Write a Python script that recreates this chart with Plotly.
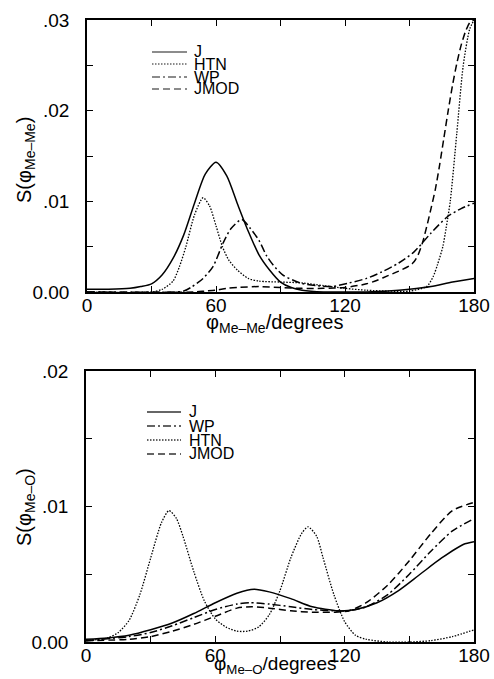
import plotly.graph_objects as go

# ---------------- data: top panel (phi Me-Me) ----------------
top_J_x = [0, 10, 20, 25, 30, 35, 40, 45, 50, 55, 60, 65, 70, 75, 80, 85, 90, 95, 100, 110, 120, 130, 140, 150, 160, 170, 180]
top_J_y = [0.0003, 0.0003, 0.0004, 0.0006, 0.0009, 0.0019, 0.0037, 0.0063, 0.0098, 0.0130, 0.0143, 0.0128, 0.0097,
           0.0067, 0.0041, 0.0024, 0.0011, 0.0005, 0.0002, 0.0000, 0.0000, 0.0000, 0.0001, 0.0003, 0.0006, 0.0011, 0.0015]

top_HTN_x = [0, 30, 35, 40, 43, 46, 50, 54, 57, 60, 63, 66, 70, 75, 80, 90, 100, 110, 120, 130, 140, 150, 158, 161,
             163, 165.5, 167, 169, 172, 175, 178, 180]
top_HTN_y = [0.0, 0.0, 0.0003, 0.0012, 0.0028, 0.0050, 0.0085, 0.0104, 0.0095, 0.0073, 0.0050, 0.0035, 0.0024, 0.0015,
             0.0012, 0.0011, 0.0010, 0.0007, 0.0004, 0.0002, 0.0001, 0.0001, 0.0006, 0.0017, 0.0030, 0.0050, 0.0070,
             0.0101, 0.0175, 0.0250, 0.0290, 0.0300]

top_WP_x = [0, 40, 45, 49, 54, 58.6, 63.3, 67, 72, 76, 80, 83.5, 86.5, 91, 99, 107, 114, 122, 130, 137, 145, 152, 160,
            167.6, 174, 180]
top_WP_y = [0.0, 0.0, 0.0001, 0.0006, 0.0015, 0.0028, 0.0054, 0.0070, 0.0080, 0.0070, 0.0057, 0.0040, 0.0030, 0.0019,
            0.0010, 0.0007, 0.0006, 0.0010, 0.0015, 0.0022, 0.0032, 0.0044, 0.0065, 0.0083, 0.0092, 0.0098]

top_JMOD_x = [0, 50, 55, 60, 65, 70, 80, 90, 100, 110, 120, 130, 135, 140, 145, 150, 152, 154, 156, 158, 160, 162, 164,
              166, 168, 170, 172, 174, 176, 178, 180]
top_JMOD_y = [0.0, 0.0, 0.0001, 0.0002, 0.0004, 0.0005, 0.0006, 0.0005, 0.0004, 0.0004, 0.0005, 0.0009, 0.0013, 0.0018,
              0.0023, 0.0029, 0.0033, 0.0041, 0.0054, 0.0072, 0.0092, 0.0113, 0.0140, 0.0170, 0.0200, 0.0228, 0.0252,
              0.0272, 0.0287, 0.0297, 0.0300]

# ---------------- data: bottom panel (phi Me-O) ----------------
bot_J_x = [0, 10, 20, 30, 40, 50, 60, 70, 78, 85, 95, 105, 117, 125, 135, 145, 155, 165, 175, 180]
bot_J_y = [0.0002, 0.0003, 0.0005, 0.0009, 0.0014, 0.0021, 0.0029, 0.0036, 0.0039, 0.0037, 0.0032, 0.0026, 0.0023,
           0.0024, 0.0029, 0.0038, 0.0050, 0.0062, 0.0072, 0.0074]

bot_WP_x = [0, 20, 30, 40, 50, 60, 70, 76, 85, 95, 105, 115, 122, 130, 140, 150, 160, 170, 180]
bot_WP_y = [0.0001, 0.0004, 0.0007, 0.0012, 0.0018, 0.0024, 0.0028, 0.0029, 0.0028, 0.0026, 0.0024, 0.0023, 0.0023,
            0.0026, 0.0035, 0.0050, 0.0067, 0.0082, 0.0091]

bot_HTN_x = [0, 10, 15, 20, 25, 30, 35, 38.5, 42, 45, 50, 55, 60, 65, 70, 75, 80, 85, 90, 95, 100, 103, 107, 110, 115,
             120, 125, 130, 140, 150, 160, 170, 180]
bot_HTN_y = [0.0001, 0.0003, 0.0007, 0.0016, 0.0035, 0.0062, 0.0088, 0.0097, 0.0091, 0.0078, 0.0052, 0.0030, 0.0017,
             0.0011, 0.0008, 0.0008, 0.0011, 0.0020, 0.0038, 0.0062, 0.0080, 0.0085, 0.0078, 0.0062, 0.0035, 0.0015,
             0.0005, 0.0002, 0.0000, 0.0000, 0.0001, 0.0004, 0.0009]

bot_JMOD_x = [0, 20, 30, 40, 50, 60, 70, 77, 85, 95, 105, 115, 122, 130, 140, 150, 160, 170, 180]
bot_JMOD_y = [0.0001, 0.0002, 0.0004, 0.0008, 0.0013, 0.0019, 0.0025, 0.0026, 0.0025, 0.0023, 0.0022, 0.0022, 0.0023,
              0.0029, 0.0042, 0.0060, 0.0080, 0.0097, 0.0103]

top_names = ["J", "HTN", "WP", "JMOD"]
bot_names = ["J", "WP", "HTN", "JMOD"]
x_ticks = [0, 60, 120, 180]
x_ticktext = ["0", "60", "120", "180"]
top_yticks = [0, 0.01, 0.02, 0.03]
top_yticktext = ["0.00", ".01", ".02", ".03"]
bot_yticks = [0, 0.01, 0.02]
bot_yticktext = ["0.00", ".01", ".02"]

# ---------------- styles ----------------
DASH = {"J": "solid", "HTN": "1.5px,1.5px", "WP": "8px,3px,2px,3px", "JMOD": "7px,4px"}
WIDTH = {"J": 1.5, "HTN": 1.3, "WP": 1.5, "JMOD": 1.5}
FONT = "Liberation Sans, Arial, Helvetica, sans-serif"

W, H = 494, 679
def px(x):
    return x / W
def py(y):
    return 1 - y / H

fig = go.Figure()
top_series = {"J": (top_J_x, top_J_y), "HTN": (top_HTN_x, top_HTN_y),
              "WP": (top_WP_x, top_WP_y), "JMOD": (top_JMOD_x, top_JMOD_y)}
bot_series = {"J": (bot_J_x, bot_J_y), "WP": (bot_WP_x, bot_WP_y),
              "HTN": (bot_HTN_x, bot_HTN_y), "JMOD": (bot_JMOD_x, bot_JMOD_y)}

for name in top_names:
    xs, ys = top_series[name]
    fig.add_trace(go.Scatter(x=xs, y=ys, mode="lines", name=name, showlegend=False,
                             line=dict(color="black", width=WIDTH[name], dash=DASH[name],
                                       shape="spline", smoothing=0.7),
                             xaxis="x", yaxis="y"))
for name in bot_names:
    xs, ys = bot_series[name]
    fig.add_trace(go.Scatter(x=xs, y=ys, mode="lines", name=name, showlegend=False,
                             line=dict(color="black", width=WIDTH[name], dash=DASH[name],
                                       shape="spline", smoothing=0.7),
                             xaxis="x2", yaxis="y2"))

axis_common = dict(showline=True, linecolor="black", linewidth=1.5, mirror="ticks",
                   ticks="inside", ticklen=6, tickcolor="black", tickwidth=1,
                   showgrid=False, zeroline=False, automargin=False,
                   tickfont=dict(family=FONT, size=19, color="black"))

fig.update_layout(
    template="none",
    width=W, height=H, margin=dict(l=0, r=0, t=0, b=0, autoexpand=False),
    paper_bgcolor="white", plot_bgcolor="white", showlegend=False,
    xaxis=dict(domain=[px(87), px(474)], range=[0, 180], anchor="y",
               tickvals=x_ticks, ticktext=x_ticktext, ticklabelstandoff=-5,
               minor=dict(dtick=30, tick0=0, ticks="inside", ticklen=6, tickcolor="black", showgrid=False),
               **axis_common),
    yaxis=dict(domain=[py(292), py(20)], range=[0, 0.03], anchor="x",
               tickvals=top_yticks, ticktext=top_yticktext, ticklabelstandoff=12,
               minor=dict(dtick=0.005, tick0=0, ticks="inside", ticklen=6, tickcolor="black", showgrid=False),
               **axis_common),
    xaxis2=dict(domain=[px(86), px(474)], range=[0, 180], anchor="y2",
                tickvals=x_ticks, ticktext=x_ticktext, ticklabelstandoff=-5,
                minor=dict(dtick=30, tick0=0, ticks="inside", ticklen=6, tickcolor="black", showgrid=False),
                **axis_common),
    yaxis2=dict(domain=[py(642), py(371)], range=[0, 0.02], anchor="x2",
                tickvals=bot_yticks, ticktext=bot_yticktext, ticklabelstandoff=12,
                minor=dict(dtick=0.005, tick0=0, ticks="inside", ticklen=6, tickcolor="black", showgrid=False),
                **axis_common),
)

ann = []
shapes = []
tfont = dict(family=FONT, size=20, color="black")
# axis titles
ann.append(dict(x=px(275), y=py(323), xref="paper", yref="paper", showarrow=False,
                text="φ<sub>Me–Me</sub>/degrees", font=tfont, xanchor="center", yanchor="middle"))
ann.append(dict(x=px(275), y=py(665), xref="paper", yref="paper", showarrow=False,
                text="φ<sub>Me–O</sub>/degrees", font=dict(family=FONT, size=19, color="black"),
                xanchor="center", yanchor="middle"))
ann.append(dict(x=px(25), y=py(160), xref="paper", yref="paper", showarrow=False, textangle=-90,
                text="S(φ<sub>Me–Me</sub>)", font=tfont, xanchor="center", yanchor="middle"))
ann.append(dict(x=px(25), y=py(507), xref="paper", yref="paper", showarrow=False, textangle=-90,
                text="S(φ<sub>Me–O</sub>)", font=tfont, xanchor="center", yanchor="middle"))

# legends (drawn manually)
lfont = dict(family=FONT, size=16, color="black")
top_rows = [52, 64, 77, 89]
for name, yy in zip(top_names, top_rows):
    shapes.append(dict(type="line", xref="paper", yref="paper", x0=px(152), x1=px(187), y0=py(yy), y1=py(yy),
                       line=dict(color="#666666", width=1.3, dash=DASH[name])))
    ann.append(dict(x=px(192), y=py(yy), xref="paper", yref="paper", showarrow=False, text=name,
                    font=lfont, xanchor="left", yanchor="middle"))
bot_rows = [412, 426, 440, 454]
for name, yy in zip(bot_names, bot_rows):
    shapes.append(dict(type="line", xref="paper", yref="paper", x0=px(147), x1=px(181), y0=py(yy), y1=py(yy),
                       line=dict(color="#333333", width=1.3, dash=DASH[name])))
    ann.append(dict(x=px(187), y=py(yy), xref="paper", yref="paper", showarrow=False, text=name,
                    font=lfont, xanchor="left", yanchor="middle"))

fig.update_layout(annotations=ann, shapes=shapes)
fig.write_html("out.html", config={"displayModeBar": False},
               post_script="document.body.style.margin='0';document.body.style.overflow='hidden';")
